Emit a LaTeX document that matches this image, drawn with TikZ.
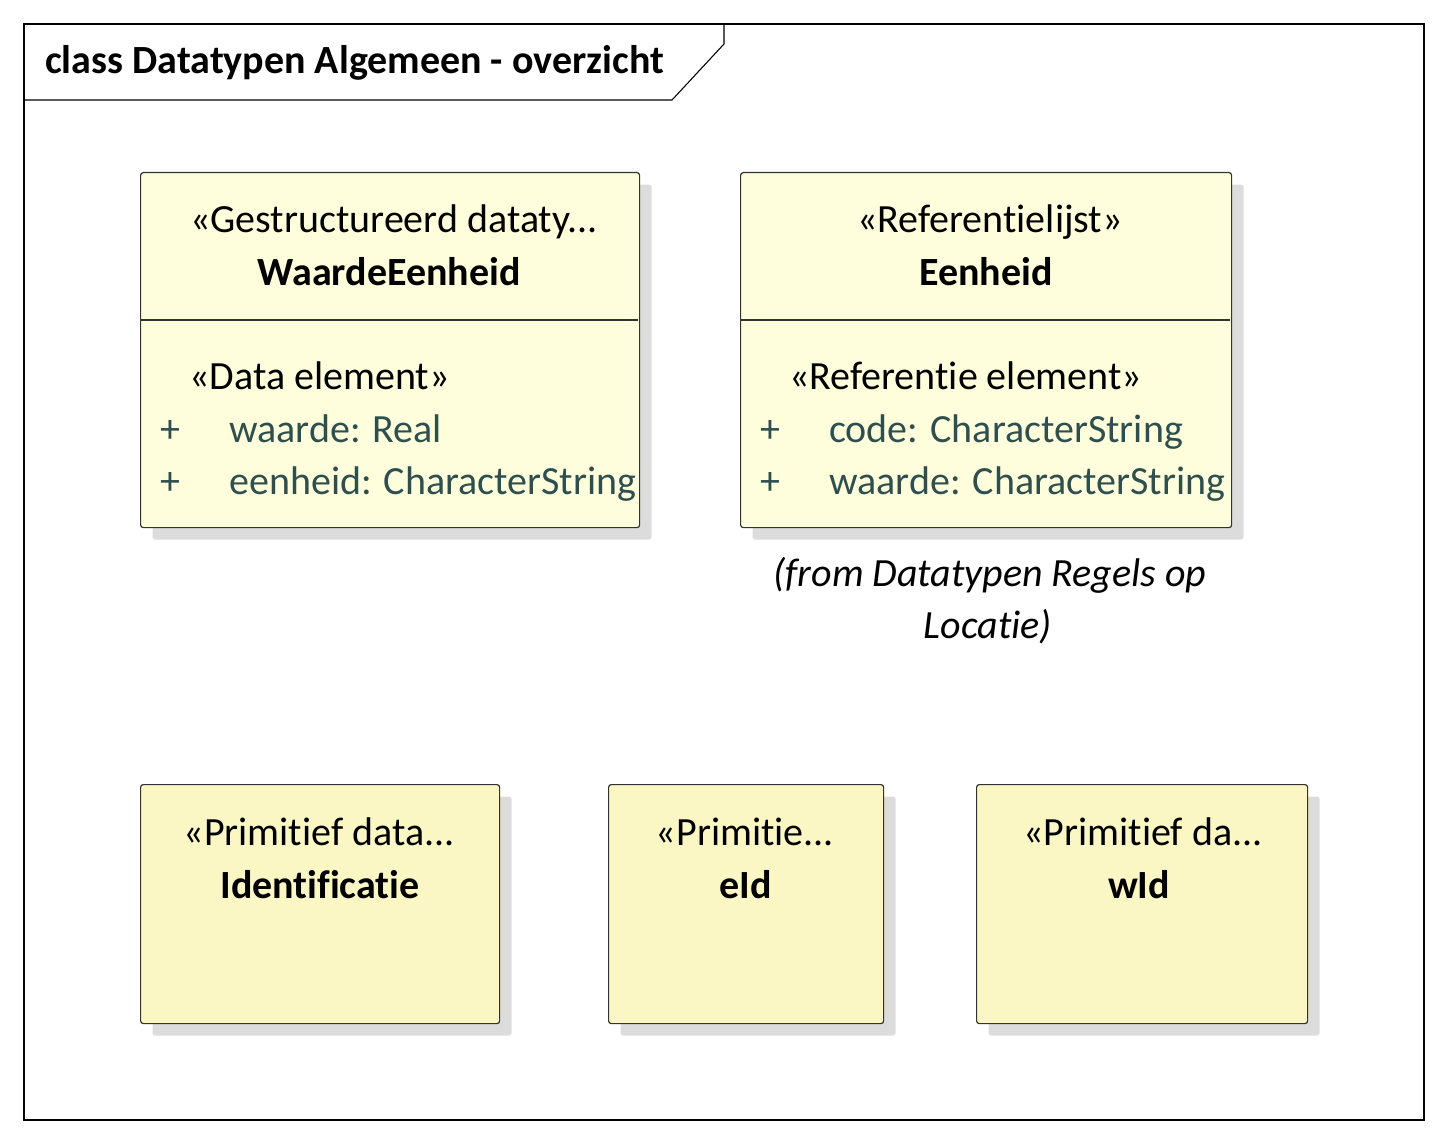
\documentclass[tikz,border=0pt]{standalone}
\usepackage{fontspec}
\setmainfont{Carlito}[Ligatures={NoCommon,NoDiscretionary,TeX}]
\usetikzlibrary{shadows}
\definecolor{topfill}{HTML}{FEFEDC}
\definecolor{botfill}{HTML}{FAF7C4}
\definecolor{attrcol}{HTML}{2F4F4F}
\definecolor{shadowcol}{HTML}{DCDCDC}
\definecolor{bordercol}{HTML}{333333}
\begin{document}
\begin{tikzpicture}[x=0.75pt,y=-0.75pt,
  umlbox/.style={draw=bordercol, line width=0.9pt, rounded corners=2pt, anchor=north west,
    inner sep=0pt, drop shadow={shadow xshift=9pt, shadow yshift=-9pt, fill=shadowcol, opacity=1}},
  txt/.style={anchor=base, inner sep=0pt, font=\fontsize{30}{39}\selectfont},
  ltxt/.style={anchor=base west, inner sep=0pt, font=\fontsize{30}{39}\selectfont},
  attr/.style={ltxt, text=attrcol},
  frameline/.style={draw=black, line width=0.8pt}]
\useasboundingbox (0,0) rectangle (1448,1144);
% frame
\draw[frameline] (24,24) rectangle (1424,1120);
\draw[frameline] (24,100) -- (672,100) -- (724,44) -- (724,24);
\node[ltxt, font=\fontsize{30}{39}\selectfont\bfseries] (title) at (45,74) {class Datatypen Algemeen - overzicht};
% WaardeEenheid
\node[umlbox, fill=topfill, minimum width=374.25pt, minimum height=266.25pt] (wbox) at (140,172) {};
\draw[bordercol, line width=0.8pt] (140,320) -- (638,320);
\node[txt] (wst) at (394,233) {«Gestructureerd dataty...};
\node[txt, font=\fontsize{30}{39}\selectfont\bfseries] (wname) at (389,286) {WaardeEenheid};
\node[ltxt] (wdst) at (189,390) {«Data element»};
\node[attr] (wp1) at (160,442) {+};
\node[attr] (wa1) at (229,442) {waarde: Real};
\node[attr] (wp2) at (160,494) {+};
\node[attr] (wa2) at (229,494) {eenheid: CharacterString};
% Eenheid
\node[umlbox, fill=topfill, minimum width=368.25pt, minimum height=266.25pt] (ebox) at (740,172) {};
\draw[bordercol, line width=0.8pt] (740,320) -- (1230,320);
\node[txt] (est) at (990,233) {«Referentielijst»};
\node[txt, font=\fontsize{30}{39}\selectfont\bfseries] (ename) at (986,286) {Eenheid};
\node[ltxt] (edst) at (789,390) {«Referentie element»};
\node[attr] (ep1) at (760,442) {+};
\node[attr] (ea1) at (829,442) {code: CharacterString};
\node[attr] (ep2) at (760,494) {+};
\node[attr] (ea2) at (829,494) {waarde: CharacterString};
\node[txt, font=\fontsize{30}{39}\selectfont\itshape] (from1) at (990,586) {(from Datatypen Regels op};
\node[txt, font=\fontsize{30}{39}\selectfont\itshape] (from2) at (988,638) {Locatie)};
% Identificatie
\node[umlbox, fill=botfill, minimum width=269.25pt, minimum height=179.25pt] (ibox) at (140,784) {};
\node[txt] (ist) at (319,845) {«Primitief data...};
\node[txt, font=\fontsize{30}{39}\selectfont\bfseries] (iname) at (320,898) {Identificatie};
% eId
\node[umlbox, fill=botfill, minimum width=206.25pt, minimum height=179.25pt] (eibox) at (608,784) {};
\node[txt] (eist) at (745,845) {«Primitie...};
\node[txt, font=\fontsize{30}{39}\selectfont\bfseries] (einame) at (746,898) {eId};
% wId
\node[umlbox, fill=botfill, minimum width=248.25pt, minimum height=179.25pt] (wibox) at (976,784) {};
\node[txt] (wist) at (1143,845) {«Primitief da...};
\node[txt, font=\fontsize{30}{39}\selectfont\bfseries] (winame) at (1139,898) {wId};
\end{tikzpicture}
\end{document}
